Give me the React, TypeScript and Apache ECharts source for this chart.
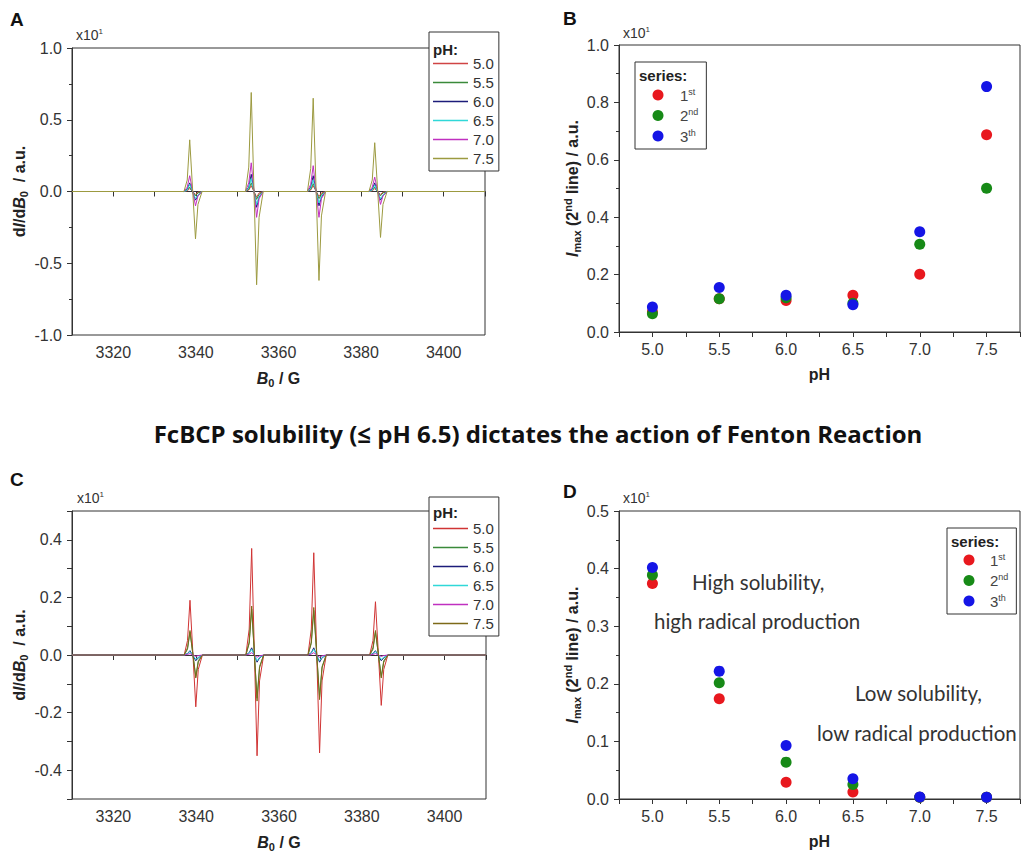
import React, { useEffect, useRef } from 'react';
import * as echarts from 'echarts';

// ---------- Data ----------
// Magnetic field positions (G) at which each EPR trace was read
const B0 = [
  3310,
  3337.1, 3337.9, 3338.5, 3339.9, 3340.5, 3341.5,
  3352.0, 3352.8, 3353.4, 3354.7, 3355.3, 3356.3,
  3367.0, 3367.8, 3368.4, 3369.8, 3370.4, 3371.4,
  3381.9, 3382.7, 3383.3, 3384.7, 3385.3, 3386.3,
  3410,
];
const B0_LABELS = [3320, 3340, 3360, 3380, 3400];

const PH_NAMES = ['5.0', '5.5', '6.0', '6.5', '7.0', '7.5'];
const PH_COLORS_A = ['#D04444', '#3A8A3A', '#1C1C7A', '#30D8D8', '#C030C0', '#9C9A40'];
const PH_COLORS_C = ['#D03434', '#3A8A3A', '#1C1C7A', '#30D8D8', '#C030C0', '#7D6A18'];

// Panel A traces (x10^1 a.u.)
const A_PH50 = [0, 0, 0.005, 0.02, -0.02, -0.005, 0, 0, 0.01, 0.04, -0.04, -0.01, 0, 0, 0.01, 0.04, -0.035, -0.01, 0, 0, 0.005, 0.02, -0.02, -0.005, 0, 0];
const A_PH55 = [0, 0, 0.01, 0.03, -0.03, -0.01, 0, 0, 0.015, 0.06, -0.055, -0.02, 0, 0, 0.015, 0.055, -0.05, -0.02, 0, 0, 0.01, 0.03, -0.03, -0.01, 0, 0];
const A_PH60 = [0, 0, 0.015, 0.06, -0.06, -0.03, 0, 0, 0.03, 0.12, -0.11, -0.04, 0, 0, 0.03, 0.11, -0.1, -0.04, 0, 0, 0.015, 0.06, -0.06, -0.03, 0, 0];
const A_PH65 = [0, 0, 0.01, 0.05, -0.05, -0.025, 0, 0, 0.025, 0.09, -0.09, -0.035, 0, 0, 0.02, 0.08, -0.08, -0.03, 0, 0, 0.01, 0.045, -0.05, -0.025, 0, 0];
const A_PH70 = [0, 0, 0.03, 0.11, -0.1, -0.03, 0, 0, 0.06, 0.2, -0.18, -0.05, 0, 0, 0.05, 0.18, -0.18, -0.05, 0, 0, 0.03, 0.1, -0.09, -0.03, 0, 0];
const A_PH75 = [0, 0, 0.08, 0.36, -0.33, -0.09, 0, 0, 0.17, 0.69, -0.65, -0.18, 0, 0, 0.16, 0.65, -0.62, -0.17, 0, 0, 0.08, 0.34, -0.32, -0.09, 0, 0];

// Panel C traces (x10^1 a.u.)
const C_PH50 = [0, 0, 0.05, 0.19, -0.18, -0.05, 0, 0, 0.09, 0.37, -0.35, -0.09, 0, 0, 0.09, 0.355, -0.34, -0.09, 0, 0, 0.05, 0.185, -0.175, -0.05, 0, 0];
const C_PH55 = [0, 0, 0.02, 0.08, -0.075, -0.02, 0, 0, 0.04, 0.16, -0.15, -0.04, 0, 0, 0.04, 0.155, -0.145, -0.04, 0, 0, 0.02, 0.08, -0.075, -0.02, 0, 0];
const C_PH60 = [0, 0, 0.005, 0.015, -0.02, -0.01, 0, 0, 0.008, 0.025, -0.025, -0.01, 0, 0, 0.008, 0.025, -0.025, -0.01, 0, 0, 0.005, 0.015, -0.02, -0.01, 0, 0];
const C_PH65 = [0, 0, 0.004, 0.012, -0.015, -0.008, 0, 0, 0.006, 0.02, -0.02, -0.008, 0, 0, 0.006, 0.02, -0.02, -0.008, 0, 0, 0.004, 0.012, -0.015, -0.008, 0, 0];
const C_PH70 = [0, 0, 0.002, 0.005, -0.005, -0.002, 0, 0, 0.003, 0.008, -0.008, -0.003, 0, 0, 0.003, 0.008, -0.008, -0.003, 0, 0, 0.002, 0.005, -0.005, -0.002, 0, 0];
const C_PH75 = [0, 0, 0.025, 0.085, -0.08, -0.025, 0, 0, 0.045, 0.17, -0.16, -0.045, 0, 0, 0.045, 0.165, -0.155, -0.045, 0, 0, 0.025, 0.085, -0.08, -0.025, 0, 0];

const A_TRACES = [A_PH50, A_PH55, A_PH60, A_PH65, A_PH70, A_PH75];
const C_TRACES = [C_PH50, C_PH55, C_PH60, C_PH65, C_PH70, C_PH75];

// Panels B and D
const PH_VALUES = [5.0, 5.5, 6.0, 6.5, 7.0, 7.5];
const PH_LABELS = ['5.0', '5.5', '6.0', '6.5', '7.0', '7.5'];
const SERIES_NUM = ['1', '2', '3'];
const SERIES_SUP = ['st', 'nd', 'th'];
const SERIES_COLORS = ['#E8181E', '#178A17', '#1515E6'];

const B_1ST = [0.07, 0.116, 0.11, 0.128, 0.201, 0.687];
const B_2ND = [0.064, 0.116, 0.119, 0.1, 0.306, 0.501];
const B_3TH = [0.087, 0.155, 0.128, 0.095, 0.349, 0.855];

const D_1ST = [0.374, 0.174, 0.029, 0.012, 0.003, 0.003];
const D_2ND = [0.389, 0.202, 0.064, 0.025, 0.003, 0.003];
const D_3TH = [0.402, 0.222, 0.093, 0.035, 0.0035, 0.003];

const B_SETS = [B_1ST, B_2ND, B_3TH];
const D_SETS = [D_1ST, D_2ND, D_3TH];

const TITLE = 'FcBCP solubility (\u2264 pH 6.5) dictates the action of Fenton Reaction';

// ---------- Styling helpers ----------
const AXIS_COLOR = '#333';
const LABEL_FONT = "'Liberation Sans', Arial, sans-serif";

const nameRich = {
  b: { fontSize: 16, fontWeight: 'bold', fontFamily: LABEL_FONT, color: '#222', lineHeight: 20 },
  bi: { fontSize: 16, fontWeight: 'bold', fontStyle: 'italic', fontFamily: LABEL_FONT, color: '#222', lineHeight: 20 },
  sub: { fontSize: 11, fontWeight: 'bold', fontFamily: LABEL_FONT, color: '#222', verticalAlign: 'bottom', lineHeight: 11 },
  sup: { fontSize: 11, fontWeight: 'bold', fontFamily: LABEL_FONT, color: '#222', verticalAlign: 'top', lineHeight: 11 },
};

const baseAxis = {
  axisLine: { lineStyle: { color: AXIS_COLOR, width: 1 } },
  axisTick: { length: 5, lineStyle: { color: AXIS_COLOR } },
  splitLine: { show: false },
  nameTextStyle: { rich: nameRich },
};

const labelStyle = { color: '#333', fontSize: 16, fontFamily: LABEL_FONT };

function fieldAxis(gridIndex: number) {
  return {
    ...baseAxis,
    type: 'value',
    gridIndex,
    min: 3310,
    max: 3410,
    interval: 10,
    name: '{bi|B}{sub|0}{b| / G}',
    nameLocation: 'middle',
    nameGap: 33,
    axisLabel: {
      ...labelStyle,
      margin: 9,
      formatter: (v: number) => (B0_LABELS.includes(Math.round(v)) ? String(Math.round(v)) : ''),
    },
  };
}

function phAxis(gridIndex: number) {
  return {
    ...baseAxis,
    type: 'value',
    gridIndex,
    min: 4.75,
    max: 7.75,
    interval: 0.25,
    name: '{b|pH}',
    nameLocation: 'middle',
    nameGap: 32,
    axisLabel: {
      ...labelStyle,
      margin: 9,
      formatter: (v: number) => {
        const s = v.toFixed(1);
        return Math.round(v * 4) % 2 === 0 && PH_LABELS.includes(s) ? s : '';
      },
    },
  };
}

const legendTextBase = { fontSize: 15, color: '#333', fontFamily: LABEL_FONT, lineHeight: 14 };

export default function App() {
  const ref = useRef<HTMLDivElement>(null);

  useEffect(() => {
    if (!ref.current) return;
    const chart = echarts.init(ref.current, undefined, { renderer: 'svg' });

    const series: any[] = [];
    PH_NAMES.forEach((n, i) => {
      series.push({
        type: 'line',
        name: 'A' + n,
        xAxisIndex: 0,
        yAxisIndex: 0,
        data: B0.map((x, j) => [x, A_TRACES[i][j]]),
        symbol: 'none',
        lineStyle: { width: 1, color: PH_COLORS_A[i] },
        itemStyle: { color: PH_COLORS_A[i] },
      });
    });
    PH_NAMES.forEach((n, i) => {
      series.push({
        type: 'line',
        name: 'C' + n,
        xAxisIndex: 2,
        yAxisIndex: 2,
        data: B0.map((x, j) => [x, C_TRACES[i][j]]),
        symbol: 'none',
        lineStyle: { width: 1, color: PH_COLORS_C[i] },
        itemStyle: { color: PH_COLORS_C[i] },
      });
    });
    SERIES_NUM.forEach((n, i) => {
      series.push({
        type: 'scatter',
        name: 'B' + n,
        xAxisIndex: 1,
        yAxisIndex: 1,
        data: PH_VALUES.map((x, j) => [x, B_SETS[i][j]]),
        symbol: 'circle',
        symbolSize: 11,
        itemStyle: { color: SERIES_COLORS[i], opacity: 1 },
      });
    });
    SERIES_NUM.forEach((n, i) => {
      series.push({
        type: 'scatter',
        name: 'D' + n,
        xAxisIndex: 3,
        yAxisIndex: 3,
        data: PH_VALUES.map((x, j) => [x, D_SETS[i][j]]),
        symbol: 'circle',
        symbolSize: 11,
        itemStyle: { color: SERIES_COLORS[i], opacity: 1 },
      });
    });

    const supFormatter = (name: string) => {
      const k = SERIES_NUM.indexOf(name.slice(1));
      return '{n|' + SERIES_NUM[k] + '}{s|' + SERIES_SUP[k] + '}';
    };
    const supRich = (gap: number) => ({
      n: { fontSize: 15, color: '#444', fontFamily: LABEL_FONT, lineHeight: 16, padding: [0, 0, 0, gap] },
      s: { fontSize: 9, color: '#444', fontFamily: LABEL_FONT, verticalAlign: 'top', lineHeight: 9 },
    });

    const phLegend = (top: number, prefix: string) => ({
      orient: 'vertical',
      left: 429,
      top,
      padding: [24, 5, 5, 4],
      icon: 'rect',
      itemWidth: 35,
      itemHeight: 1.5,
      itemGap: 4,
      borderColor: '#333',
      borderWidth: 1,
      backgroundColor: '#fff',
      selectedMode: false,
      data: PH_NAMES.map((n) => prefix + n),
      formatter: (name: string) => name.slice(1),
      textStyle: legendTextBase,
    });

    const serLegend = (left: number, top: number, padTop: number, padLeft: number, gap: number, prefix: string) => ({
      orient: 'vertical',
      left,
      top,
      padding: [padTop, 8, 5, padLeft],
      itemWidth: 11,
      itemHeight: 11,
      itemGap: 4.5,
      icon: 'circle',
      borderColor: '#333',
      borderWidth: 1,
      backgroundColor: '#fff',
      selectedMode: false,
      data: SERIES_NUM.map((n) => prefix + n),
      formatter: supFormatter,
      textStyle: { ...legendTextBase, lineHeight: 16, rich: supRich(gap) },
    });

    const textEl = (text: string, x: number, y: number, font: string, fill = '#111', extra: any = {}) => ({
      type: 'text',
      x,
      y,
      z: 100,
      style: { text, font, fill, align: 'left', verticalAlign: 'middle', ...extra },
    });

    const x10 = (x: number, y: number) => ({
      type: 'text',
      x,
      y,
      z: 100,
      style: {
        text: '{m|x10}{s|1}',
        align: 'left',
        verticalAlign: 'middle',
        rich: {
          m: { fontSize: 14, fontFamily: LABEL_FONT, fill: '#333', color: '#333', lineHeight: 15 },
          s: { fontSize: 8, fontFamily: LABEL_FONT, fill: '#333', color: '#333', verticalAlign: 'top', lineHeight: 8 },
        },
      },
    });

    const option: any = {
      animation: false,
      backgroundColor: '#fff',
      grid: [
        { left: 72, top: 48, width: 413, height: 287, show: true, borderColor: AXIS_COLOR, borderWidth: 1, backgroundColor: 'transparent' },
        { left: 619, top: 45, width: 413, height: 287, show: true, borderColor: AXIS_COLOR, borderWidth: 1, backgroundColor: 'transparent' },
        { left: 72, top: 511, width: 414, height: 288, show: true, borderColor: AXIS_COLOR, borderWidth: 1, backgroundColor: 'transparent' },
        { left: 619, top: 511, width: 413, height: 288, show: true, borderColor: AXIS_COLOR, borderWidth: 1, backgroundColor: 'transparent' },
      ],
      xAxis: [fieldAxis(0), phAxis(1), fieldAxis(2), phAxis(3)],
      yAxis: [
        {
          ...baseAxis,
          type: 'value',
          gridIndex: 0,
          min: -1,
          max: 1,
          interval: 0.5,
          minorTick: { show: true, splitNumber: 2, length: 3, lineStyle: { color: AXIS_COLOR } },
          name: '{b|d}{bi|I}{b|/d}{bi|B}{sub|0}{b|  / a.u.}',
          nameLocation: 'middle',
          nameGap: 43,
          axisLabel: { ...labelStyle, margin: 10, formatter: (v: number) => v.toFixed(1) },
        },
        {
          ...baseAxis,
          type: 'value',
          gridIndex: 1,
          min: 0,
          max: 1,
          interval: 0.2,
          minorTick: { show: true, splitNumber: 2, length: 3, lineStyle: { color: AXIS_COLOR } },
          name: '{bi|I}{sub|max}{b| (2}{sup|nd}{b| line) / a.u.}',
          nameLocation: 'middle',
          nameGap: 37,
          axisLabel: { ...labelStyle, margin: 10, formatter: (v: number) => v.toFixed(1) },
        },
        {
          ...baseAxis,
          type: 'value',
          gridIndex: 2,
          min: -0.5,
          max: 0.5,
          interval: 0.1,
          name: '{b|d}{bi|I}{b|/d}{bi|B}{sub|0}{b|  / a.u.}',
          nameLocation: 'middle',
          nameGap: 43,
          axisLabel: {
            ...labelStyle,
            margin: 10,
            formatter: (v: number) => {
              const k = Math.round(v * 10);
              return k % 2 === 0 && Math.abs(k) < 5 ? (k / 10).toFixed(1) : '';
            },
          },
        },
        {
          ...baseAxis,
          type: 'value',
          gridIndex: 3,
          min: 0,
          max: 0.5,
          interval: 0.1,
          minorTick: { show: true, splitNumber: 2, length: 3, lineStyle: { color: AXIS_COLOR } },
          name: '{bi|I}{sub|max}{b| (2}{sup|nd}{b| line) / a.u.}',
          nameLocation: 'middle',
          nameGap: 37,
          axisLabel: { ...labelStyle, margin: 10, formatter: (v: number) => v.toFixed(1) },
        },
      ],
      legend: [
        phLegend(32, 'A'),
        phLegend(497, 'C'),
        serLegend(635, 62, 25, 17.5, 11.5, 'B'),
        serLegend(947, 528, 24, 16.5, 10.5, 'D'),
      ],
      graphic: [
        textEl('A', 10, 19, 'bold 19px Liberation Sans'),
        textEl('B', 563, 18, 'bold 19px Liberation Sans'),
        textEl('C', 10, 479, 'bold 19px Liberation Sans'),
        textEl('D', 563, 491, 'bold 19px Liberation Sans'),
        x10(76, 35),
        x10(623, 33),
        x10(77, 498),
        x10(623, 498),
        textEl('pH:', 433, 49, 'bold 15px Liberation Sans', '#222'),
        textEl('pH:', 433, 512, 'bold 15px Liberation Sans', '#222'),
        textEl('series:', 639, 75, 'bold 15px Liberation Sans', '#222'),
        textEl('series:', 951, 541, 'bold 15px Liberation Sans', '#222'),
        {
          type: 'text',
          x: 538,
          y: 433,
          z: 100,
          style: { text: TITLE, font: 'bold 24px Open Sans', fill: '#111', align: 'center', verticalAlign: 'middle' },
        },
        textEl('High solubility,', 692, 582, '20.5px Lato', '#333'),
        textEl('high radical production', 654, 621, '20.5px Lato', '#333'),
        textEl('Low solubility,', 855, 693, '20.5px Lato', '#333'),
        textEl('low radical production', 817, 733, '20.5px Lato', '#333'),
      ],
      series,
    };

    chart.setOption(option);
    return () => chart.dispose();
  }, []);

  return <div ref={ref} style={{ position: 'absolute', left: 0, top: 0, width: 1023, height: 855 }} />;
}
